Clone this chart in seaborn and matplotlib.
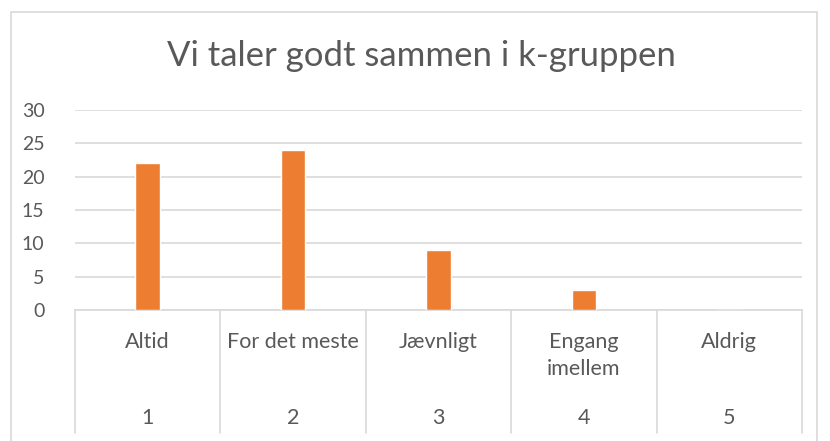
import matplotlib
matplotlib.use("Agg")
import matplotlib.pyplot as plt
import matplotlib.transforms as mtransforms
from matplotlib.patches import Rectangle
import seaborn as sns
import pandas as pd

title = "Vi taler godt sammen i k-gruppen"
categories = ["Altid", "For det meste", "Jævnligt", "Engang\nimellem", "Aldrig"]
codes = ["1", "2", "3", "4", "5"]
values = [22, 24, 9, 3, 0]
yticks = [0, 5, 10, 15, 20, 25, 30]

sns.set_theme(style="white")
plt.rcParams["font.family"] = ["Lato", "DejaVu Sans"]

W, H = 830, 441
fig = plt.figure(figsize=(W / 100, H / 100), dpi=100)
fig.patch.set_facecolor("white")

# outer chart border
fig.add_artist(Rectangle((11 / W, -0.1), (817 - 11) / W, 1.1 - 12 / H,
                         transform=fig.transFigure, fill=False,
                         edgecolor="#D9D9D9", linewidth=1.2))

left, right, top, bottom = 75, 802, 110, 310
ax = fig.add_axes([left / W, 1 - bottom / H, (right - left) / W, (bottom - top) / H])

df = pd.DataFrame({"cat": codes, "val": values})
sns.barplot(data=df, x="cat", y="val", color="#ED7D31", width=0.17,
            saturation=1, ax=ax, zorder=3)

ax.set_ylim(0, 30)
ax.set_xlim(-0.5, len(codes) - 0.5)
ax.set_yticks(yticks)
ax.set_yticklabels([str(v) for v in yticks], fontsize=14, color="#595959")
ax.tick_params(axis="y", length=0, pad=22)
ax.set_xticks([])
ax.set_xlabel("")
ax.set_ylabel("")
ax.grid(axis="y", color="#D9D9D9", linewidth=1.2, zorder=0)
for s in ["left", "right", "top"]:
    ax.spines[s].set_visible(False)
ax.spines["bottom"].set_color("#D9D9D9")
ax.spines["bottom"].set_linewidth(1.2)

tr = mtransforms.blended_transform_factory(ax.transData, ax.transAxes)
px = 1 / (bottom - top)
line_bottom = -(433 - bottom) * px
for i in range(len(codes) + 1):
    ax.plot([i - 0.5, i - 0.5], [0, line_bottom], transform=tr, color="#D9D9D9",
            linewidth=1.2, clip_on=False)
for i, (c, n) in enumerate(zip(categories, codes)):
    ax.text(i, -(332 - bottom) * px, c, transform=tr, ha="center", va="top",
            fontsize=15.5, color="#595959", linespacing=1.45)
    ax.text(i, -(418 - bottom) * px, n, transform=tr, ha="center", va="center",
            fontsize=15.5, color="#595959")

fig.text(421 / W, 1 - 56 / H, title, ha="center", va="center",
         fontsize=25, color="#595959")

fig.savefig("out.png", dpi=100)
